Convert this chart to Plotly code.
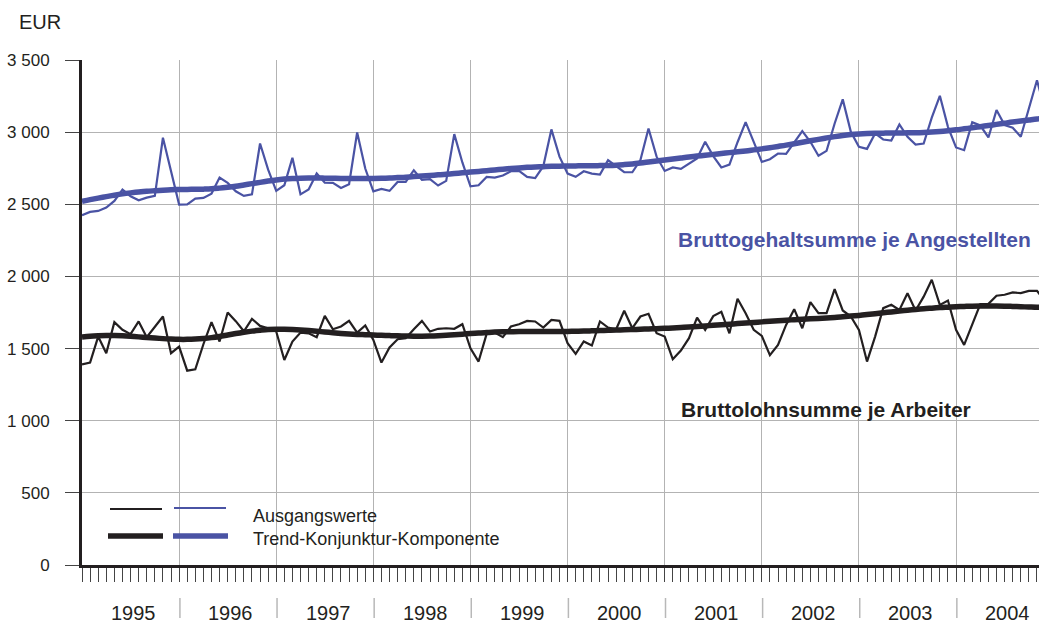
import plotly.graph_objects as go

# ---------------- data (monthly, Jan 1995 = 0) ----------------
months = list(range(120))

blue_raw = [2424, 2447, 2454, 2477, 2523, 2602, 2556, 2528, 2546, 2558, 2961, 2740,
            2498, 2500, 2539, 2544, 2574, 2685, 2648, 2590, 2558, 2569, 2921, 2740,
            2593, 2632, 2822, 2569, 2602, 2713, 2650, 2648, 2613, 2639, 2998, 2748,
            2590, 2606, 2593, 2655, 2655, 2736, 2669, 2674, 2630, 2662, 2986, 2790,
            2625, 2632, 2690, 2685, 2699, 2729, 2731, 2690, 2681, 2764, 3019, 2830,
            2713, 2690, 2729, 2713, 2706, 2806, 2764, 2722, 2722, 2806, 3025, 2830,
            2731, 2755, 2745, 2782, 2817, 2933, 2834, 2755, 2775, 2930, 3069, 2933,
            2794, 2812, 2852, 2850, 2926, 3007, 2933, 2836, 2870, 3060, 3227, 3002,
            2898, 2884, 2991, 2949, 2942, 3053, 2968, 2914, 2921, 3100, 3252, 3037,
            2894, 2875, 3069, 3046, 2963, 3153, 3049, 3030, 2968, 3160, 3360, 3150]

blue_trend = [2520, 2532, 2543, 2553, 2563, 2572, 2579, 2585, 2590, 2594, 2598, 2601,
              2602, 2603, 2604, 2605, 2607, 2612, 2618, 2625, 2634, 2643, 2652, 2661,
              2669, 2675, 2679, 2681, 2682, 2682, 2681, 2680, 2679, 2679, 2679, 2679,
              2679, 2680, 2682, 2685, 2688, 2692, 2696, 2700, 2704, 2708, 2713, 2718,
              2723, 2728, 2733, 2738, 2743, 2748, 2752, 2756, 2759, 2761, 2763, 2764,
              2765, 2766, 2767, 2767, 2768, 2769, 2771, 2775, 2780, 2786, 2793, 2800,
              2807, 2814, 2821, 2828, 2834, 2840, 2846, 2852, 2858, 2864, 2870, 2877,
              2884, 2892, 2901, 2910, 2920, 2930, 2940, 2950, 2960, 2969, 2977, 2983,
              2987, 2990, 2992, 2993, 2994, 2994, 2995, 2996, 2998, 3001, 3005, 3010,
              3016, 3023, 3030, 3038, 3046, 3054, 3062, 3070, 3077, 3084, 3091, 3097]

black_raw = [1391, 1403, 1583, 1468, 1683, 1630, 1600, 1688, 1579, 1650, 1722, 1468,
             1514, 1347, 1356, 1530, 1683, 1549, 1750, 1690, 1620, 1706, 1657, 1640,
             1618, 1421, 1549, 1611, 1606, 1579, 1727, 1634, 1653, 1692, 1611, 1660,
             1560, 1403, 1508, 1565, 1572, 1634, 1692, 1618, 1637, 1641, 1637, 1669,
             1502, 1410, 1602, 1611, 1579, 1653, 1669, 1692, 1688, 1646, 1699, 1692,
             1537, 1463, 1549, 1521, 1688, 1646, 1634, 1762, 1641, 1722, 1741, 1606,
             1583, 1426, 1486, 1572, 1715, 1630, 1725, 1755, 1606, 1845, 1745, 1630,
             1588, 1454, 1525, 1664, 1773, 1641, 1822, 1745, 1745, 1912, 1764, 1722,
             1630, 1410, 1583, 1780, 1803, 1768, 1884, 1764, 1860, 1977, 1803, 1833,
             1630, 1525, 1664, 1808, 1810, 1866, 1873, 1889, 1884, 1900, 1900, 1830]

black_trend = [1580, 1585, 1588, 1590, 1590, 1588, 1585, 1581, 1577, 1573, 1569, 1566,
               1564, 1564, 1566, 1570, 1576, 1584, 1594, 1604, 1613, 1621, 1627, 1632,
               1634, 1634, 1632, 1629, 1625, 1620, 1615, 1610, 1605, 1601, 1598, 1596,
               1594, 1592, 1590, 1588, 1587, 1586, 1586, 1587, 1589, 1592, 1596, 1600,
               1604, 1608, 1611, 1614, 1616, 1617, 1618, 1618, 1618, 1618, 1618, 1618,
               1619, 1620, 1621, 1623, 1625, 1627, 1629, 1630, 1632, 1634, 1636, 1638,
               1640, 1643, 1646, 1649, 1653, 1657, 1661, 1665, 1669, 1673, 1677, 1681,
               1685, 1689, 1693, 1697, 1700, 1703, 1706, 1709, 1712, 1716, 1720, 1725,
               1730, 1736, 1742, 1748, 1754, 1760, 1766, 1771, 1776, 1780, 1784, 1787,
               1790, 1792, 1794, 1795, 1795, 1795, 1794, 1792, 1790, 1788, 1786, 1785]

years = ["1995", "1996", "1997", "1998", "1999", "2000", "2001", "2002", "2003", "2004"]
y_ticks = [0, 500, 1000, 1500, 2000, 2500, 3000, 3500]
y_labels = ["0", "500", "1 000", "1 500", "2 000", "2 500", "3 000", "3 500"]

label_blue = "Bruttogehaltsumme je Angestellten"
label_black = "Bruttolohnsumme je Arbeiter"
legend_raw = "Ausgangswerte"
legend_trend = "Trend-Konjunktur-Komponente"

# ---------------- styling ----------------
BLUE = "#4a53a4"
BLACK = "#231f20"
GRID = "#b3b3b3"
FONT = "Liberation Sans, Arial, sans-serif"
W, H = 1039, 626
ML, MR, MT, MB = 82, 0, 60, 61
PW, PH = W - ML - MR, H - MT - MB


def px(x):
    return (x - ML) / PW


def py(y):
    return (H - MB - y) / PH


fig = go.Figure()
fig.add_trace(go.Scatter(x=months, y=black_raw, mode="lines",
                         line=dict(color=BLACK, width=2.2), hoverinfo="skip"))
fig.add_trace(go.Scatter(x=months, y=blue_raw, mode="lines",
                         line=dict(color=BLUE, width=2.2), hoverinfo="skip"))
fig.add_trace(go.Scatter(x=months, y=black_trend, mode="lines",
                         line=dict(color=BLACK, width=5.5, shape="spline"), hoverinfo="skip"))
fig.add_trace(go.Scatter(x=months, y=blue_trend, mode="lines",
                         line=dict(color=BLUE, width=5.5, shape="spline"), hoverinfo="skip"))

shapes = []
annotations = []

# white boxes hiding gridlines behind labels / legend
for (x0, y0, x1, y1) in [(665, 216, 1039, 260), (669, 378, 1013, 443), (85, 496, 560, 555)]:
    shapes.append(dict(type="rect", xref="paper", yref="paper",
                       x0=px(x0), x1=px(x1), y0=py(y1), y1=py(y0),
                       fillcolor="white", line=dict(width=0), layer="between"))

# legend lines
for (x0, x1, y, c, w) in [(110, 162, 509, BLACK, 2.2), (174, 226, 508, BLUE, 2.2),
                          (108, 163, 536, BLACK, 5.5), (173, 228, 536, BLUE, 5.5)]:
    shapes.append(dict(type="line", xref="paper", yref="paper",
                       x0=px(x0), x1=px(x1), y0=py(y), y1=py(y),
                       line=dict(color=c, width=w), layer="above"))

annotations.append(dict(text=legend_raw, xref="paper", yref="paper", x=px(251), y=py(516),
                        xanchor="left", yanchor="middle", showarrow=False,
                        font=dict(family=FONT, size=18, color=BLACK)))
annotations.append(dict(text=legend_trend, xref="paper", yref="paper", x=px(251), y=py(539),
                        xanchor="left", yanchor="middle", showarrow=False,
                        font=dict(family=FONT, size=18, color=BLACK)))

# series labels
annotations.append(dict(text="<b>%s</b>" % label_blue, xref="paper", yref="paper",
                        x=px(854), y=py(239), xanchor="center", yanchor="middle",
                        showarrow=False, font=dict(family=FONT, size=21, color=BLUE)))
annotations.append(dict(text="<b>%s</b>" % label_black, xref="paper", yref="paper",
                        x=px(826), y=py(409), xanchor="center", yanchor="middle",
                        showarrow=False, font=dict(family=FONT, size=21, color=BLACK)))

# unit label
annotations.append(dict(text="EUR", xref="paper", yref="paper", x=px(17), y=py(22),
                        xanchor="left", yanchor="middle", showarrow=False,
                        font=dict(family=FONT, size=20, color=BLACK)))

# year labels and separators
for k, yr in enumerate(years):
    annotations.append(dict(text=yr, xref="x", yref="paper", x=12 * k + 6.4, y=py(613),
                            xanchor="center", yanchor="middle", showarrow=False,
                            font=dict(family=FONT, size=20, color=BLACK)))
    if k > 0:
        shapes.append(dict(type="line", xref="x", yref="paper", x0=12 * k + 0.1, x1=12 * k + 0.1,
                           y0=py(598), y1=py(618), line=dict(color="#b8b8b8", width=1.5)))

fig.update_layout(
    width=W, height=H,
    margin=dict(l=ML, r=MR, t=MT, b=MB, pad=0),
    paper_bgcolor="white", plot_bgcolor="white",
    showlegend=False,
    shapes=shapes, annotations=annotations,
    xaxis=dict(range=[0, 118.25], showline=True, linecolor=BLACK, linewidth=3,
               tickmode="linear", tick0=0, dtick=12, ticks="outside", ticklen=14,
               tickwidth=1, tickcolor="#444", showticklabels=False,
               showgrid=True, gridcolor=GRID, gridwidth=1.3, zeroline=False,
               minor=dict(tick0=0, dtick=1, ticks="outside", ticklen=14, tickwidth=1,
                          tickcolor="#444", showgrid=False)),
    yaxis=dict(range=[0, 3500], showline=True, linecolor=BLACK, linewidth=3,
               tickmode="array", tickvals=y_ticks, ticktext=y_labels,
               ticks="outside", ticklen=14, tickwidth=1.3, tickcolor="#444",
               showgrid=True, gridcolor=GRID, gridwidth=1.3, zeroline=False,
               ticklabelstandoff=12,
               tickfont=dict(family=FONT, size=17, color=BLACK)),
)

fig.write_html("out.html", config={"displayModeBar": False},
               post_script="document.body.style.margin='0';document.body.style.overflow='hidden';")
